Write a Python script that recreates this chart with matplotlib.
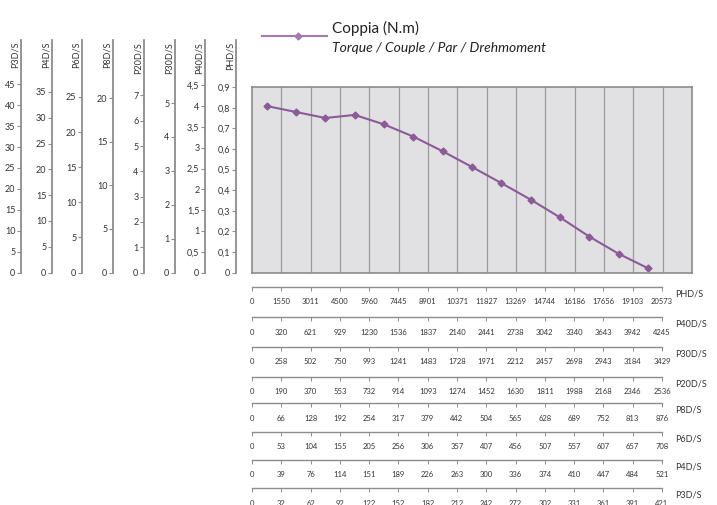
import numpy as np
import matplotlib.pyplot as plt
from matplotlib.lines import Line2D

plt.rcParams['font.family'] = ['Lato', 'DejaVu Sans']

W, H = 717, 505

# torque curve (N.m), one point per speed step
torque = [0.808, 0.779, 0.750, 0.765, 0.719, 0.660, 0.589,
          0.513, 0.435, 0.355, 0.269, 0.176, 0.093, 0.023]

# left-hand scales
scale_names = ["P3D/S", "P4D/S", "P6D/S", "P8D/S", "P20D/S", "P30D/S", "P40D/S", "PHD/S"]
scale_ticks = [
    [0, 5, 10, 15, 20, 25, 30, 35, 40, 45],
    [0, 5, 10, 15, 20, 25, 30, 35],
    [0, 5, 10, 15, 20, 25],
    [0, 5, 10, 15, 20],
    [0, 1, 2, 3, 4, 5, 6, 7],
    [0, 1, 2, 3, 4, 5],
    [0, 0.5, 1, 1.5, 2, 2.5, 3, 3.5, 4, 4.5],
    [0, 0.1, 0.2, 0.3, 0.4, 0.5, 0.6, 0.7, 0.8, 0.9],
]

# speed tables (rpm)
row_names = ["PHD/S", "P40D/S", "P30D/S", "P20D/S", "P8D/S", "P6D/S", "P4D/S", "P3D/S"]
row_values = [
    [0, 1550, 3011, 4500, 5960, 7445, 8901, 10371, 11827, 13269, 14744, 16186, 17656, 19103, 20573],
    [0, 320, 621, 929, 1230, 1536, 1837, 2140, 2441, 2738, 3042, 3340, 3643, 3942, 4245],
    [0, 258, 502, 750, 993, 1241, 1483, 1728, 1971, 2212, 2457, 2698, 2943, 3184, 3429],
    [0, 190, 370, 553, 732, 914, 1093, 1274, 1452, 1630, 1811, 1988, 2168, 2346, 2536],
    [0, 66, 128, 192, 254, 317, 379, 442, 504, 565, 628, 689, 752, 813, 876],
    [0, 53, 104, 155, 205, 256, 306, 357, 407, 456, 507, 557, 607, 657, 708],
    [0, 39, 76, 114, 151, 189, 226, 263, 300, 336, 374, 410, 447, 484, 521],
    [0, 32, 62, 92, 122, 152, 182, 212, 242, 272, 302, 331, 361, 391, 421],
]

# layout (pixels)
scale_x = [21, 52, 82, 113, 144, 175, 205, 236]
scale_top = [55.6, 45.06, 33.1, 26.7, 9.19, 6.86, 5.59, 1.129]
row_y = [286.7, 317.3, 346.7, 376.7, 403.3, 431.7, 460, 488.3]

purple = "#8b5b98"
gray = "#8c8c8c"
txt = "#333333"


def fx(x):
    return x / W


def fy(y):
    return 1 - y / H


def comma(v):
    return f"{v:g}".replace(".", ",")


fig = plt.figure(figsize=(W / 100, H / 100), dpi=100)

# main torque panel
ax = fig.add_axes([fx(252), fy(273), (692 - 252) / W, (273 - 87) / H])
ax.set_facecolor("#e1e1e3")
ax.set_xlim(0, 15)
ax.set_ylim(0, 0.9)
for k in range(1, 15):
    ax.axvline(k, color="#9a9a9a", linewidth=0.9)
x_pos = np.arange(len(torque)) + 0.5
ax.plot(x_pos, torque, color=purple, linewidth=1.5, marker="D", markersize=3.5)
ax.set_xticks([])
ax.set_yticks([])
for s in ax.spines.values():
    s.set_color(gray)
    s.set_linewidth(1.2)

# vertical scales on the left
for name, ticks, x, top in zip(scale_names, scale_ticks, scale_x, scale_top):
    sa = fig.add_axes([fx(x), fy(272.5), 0.0001, (272.5 - 40) / H])
    sa.patch.set_visible(False)
    sa.set_ylim(0, top)
    sa.set_xticks([])
    sa.set_yticks(ticks)
    sa.set_yticklabels([comma(t) for t in ticks])
    for side in ["top", "right", "bottom"]:
        sa.spines[side].set_visible(False)
    sa.spines["left"].set_color(gray)
    sa.spines["left"].set_linewidth(1.3)
    sa.tick_params(axis="y", length=3, width=0.8, color=gray, pad=1,
                   labelsize=6.5, labelcolor=txt)
    fig.text(fx(x - 6), fy(42), name, rotation=90, ha="center", va="top",
             fontsize=6.5, color=txt)

# speed tables at the bottom
for name, values, y in zip(row_names, row_values, row_y):
    ra = fig.add_axes([fx(252), fy(y + 10), (662 - 252) / W, 10 / H])
    ra.patch.set_visible(False)
    ra.set_xlim(0, 14)
    ra.set_yticks([])
    ra.set_xticks(range(len(values)))
    ra.set_xticklabels([str(v) for v in values])
    for side in ["left", "right", "bottom"]:
        ra.spines[side].set_visible(False)
    ra.spines["top"].set_color(gray)
    ra.spines["top"].set_linewidth(1.0)
    ra.tick_params(axis="x", top=True, bottom=False, labeltop=False, labelbottom=True,
                   direction="in", length=3, width=0.7, color=gray, pad=1,
                   labelsize=5.5, labelcolor=txt)
    fig.text(fx(675), fy(y + 7), name, ha="left", va="center", fontsize=6.5, color=txt)

# legend
fig.add_artist(Line2D([fx(262), fx(327)], [fy(36), fy(36)], color="#a57ab2", linewidth=1.5))
fig.add_artist(Line2D([fx(298)], [fy(36)], color="#a57ab2", marker="D", markersize=3.5))
fig.text(fx(332), fy(28), "Coppia (N.m)", ha="left", va="center", fontsize=11, color="#222222")
fig.text(fx(332), fy(47.5), "Torque / Couple / Par / Drehmoment", ha="left", va="center",
         fontsize=10, style="italic", color="#222222")

fig.savefig("out.png", dpi=100)
